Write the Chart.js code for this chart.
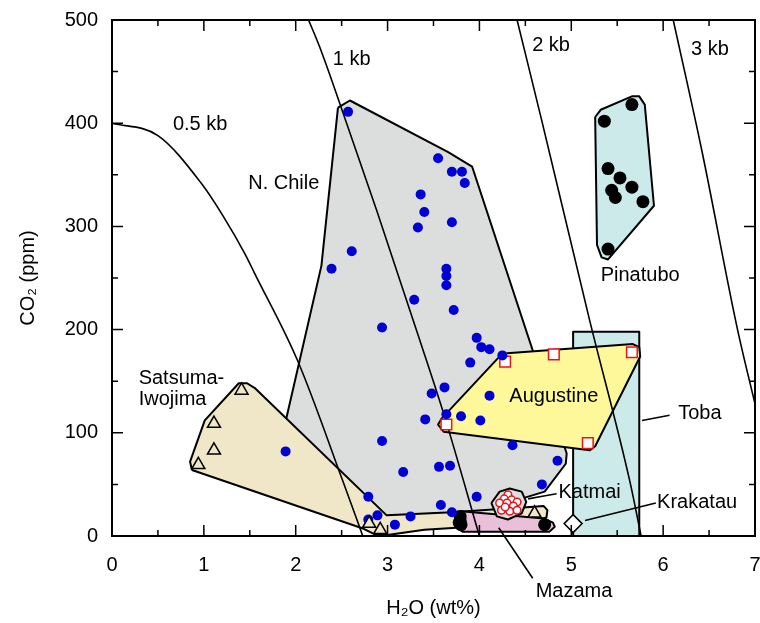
<!DOCTYPE html>
<html lang="en">
<head>
<meta charset="UTF-8">
<title>CO2 vs H2O</title>
<script src="https://cdn.jsdelivr.net/npm/chart.js@4"></script>
<style>
  body { margin: 0; background: #fff; }
  #wrap { width: 760px; height: 623px; }
</style>
</head>
<body>
<div id="wrap"><canvas id="chart" width="760" height="623"></canvas></div>
<script>
// axis ticks
const xTicks = [0, 1, 2, 3, 4, 5, 6, 7];
const yTicks = [0, 100, 200, 300, 400, 500];
const xMinor = [0.5, 1.5, 2.5, 3.5, 4.5, 5.5, 6.5];
const yMinor = [50, 150, 250, 350, 450];

// isobars (H2O wt%, CO2 ppm)
const isobar05 = [[0, 400], [0.5, 388], [0.97, 342], [1.21, 310], [1.45, 273], [1.55, 255], [2.02, 170], [2.51, 54], [2.73, 0]];
const isobar1 = [[2.14, 500], [2.26, 474], [2.43, 432], [2.88, 316], [3.35, 190], [3.63, 113], [4.0, 0]];
const isobar2 = [[4.41, 500], [4.68, 402], [5.2, 209], [5.64, 52], [5.76, 0]];
const isobar3 = [[6.11, 500], [6.42, 374], [6.81, 200], [7.0, 128]];

// outlined fields
const nChileField = [[2.46, 415], [2.59, 422], [3.66, 372], [3.92, 358], [4.95, 80], [4.94, 70], [4.71, 43], [4.45, 36], [4.2, 25], [3.0, 19], [2.93, 14], [1.89, 111], [2.28, 262], [2.46, 415]];
const satsumaField = [[0.87, 64], [0.85, 72], [1.01, 112], [1.38, 148], [1.47, 148], [1.56, 143], [2.99, 20], [3.7, 23], [4.55, 28], [4.7, 29], [4.74, 25], [4.73, 18], [4.5, 12], [3.4, 6], [3.0, 1], [2.85, 2], [2.74, 7], [0.87, 64]];
const tobaField = [[5.02, 0], [5.02, 198], [5.74, 198], [5.74, 0], [5.02, 0]];
const augustineField = [[4.22, 174], [4.3, 177], [5.67, 186], [5.74, 183], [5.75, 174], [5.26, 87], [5.2, 83], [3.61, 101], [3.55, 108], [3.59, 114], [4.22, 174]];
const mazamaField = [[3.74, 20], [3.8, 24], [4.7, 17], [4.8, 13], [4.82, 9], [4.76, 4], [3.82, 4], [3.74, 9], [3.74, 20]];
const katmaiField = [[4.13, 32], [4.22, 43], [4.33, 46], [4.46, 43], [4.51, 33], [4.46, 22], [4.31, 16], [4.19, 19], [4.13, 32]];
const pinatuboField = [[5.26, 406], [5.32, 413], [5.66, 426], [5.74, 426], [5.8, 418], [5.9, 320], [5.4, 268], [5.33, 270], [5.28, 282], [5.26, 406]];

// samples
const nChile = [[2.57, 411], [3.55, 366], [3.7, 353], [3.81, 353], [3.84, 342], [3.36, 331], [3.4, 314], [3.7, 304], [3.33, 299], [2.61, 276], [2.39, 259], [3.64, 259], [3.64, 252], [3.64, 243], [3.29, 229], [3.72, 219], [2.94, 202], [3.97, 192], [4.02, 183], [4.11, 181], [4.25, 175], [3.9, 168], [3.62, 144], [3.48, 138], [4.11, 136], [3.64, 118], [3.8, 116], [3.41, 113], [4.01, 112], [4.36, 88], [4.85, 73], [1.89, 82], [2.94, 92], [3.17, 62], [3.56, 67], [3.68, 68], [4.68, 50], [3.97, 38], [3.58, 30], [3.7, 23], [3.25, 19], [2.79, 38], [2.79, 16], [2.89, 20], [3.08, 11]];
const satsuma = [[1.41, 141], [1.11, 109], [1.11, 83], [0.94, 69], [2.8, 12], [2.92, 6], [4.6, 22]];
const augustine = [[4.28, 169], [4.81, 176], [5.66, 178], [3.64, 108], [5.18, 90]];
const katmai = [[4.31, 40], [4.27, 36], [4.35, 35], [4.41, 33], [4.22, 32], [4.3, 32], [4.37, 29], [4.24, 25], [4.33, 24], [4.41, 25], [4.28, 28]];
const pinatubo = [[5.36, 402], [5.66, 418], [5.4, 356], [5.53, 347], [5.44, 335], [5.48, 328], [5.66, 338], [5.78, 324], [5.4, 278]];
const mazama = [[3.79, 19], [3.79, 15], [3.8, 11], [3.78, 13], [4.71, 11]];
const krakatau = [[5.02, 12]];

// leader lines
const tobaLeader = [[5.77, 112], [6.07, 117]];
const katmaiLeader = [[4.53, 36], [4.84, 41]];
const krakatauLeader = [[5.15, 15], [5.92, 32]];
const mazamaLeader = [[4.21, 8], [4.58, -41]];

const FONT = '"Liberation Sans", Arial, Helvetica, sans-serif';
const pts = a => a.map(p => ({x: p[0], y: p[1]}));

function field(data, color, order) {
  return {
    data: pts(data), showLine: true, fill: 'shape', backgroundColor: color,
    borderColor: '#000', borderWidth: 2, borderJoinStyle: 'round',
    pointRadius: 0, tension: 0, order: order
  };
}
function curve(data, width, order, extra) {
  return Object.assign({
    data: pts(data), showLine: true, fill: false, borderColor: '#000',
    borderWidth: width, pointRadius: 0, cubicInterpolationMode: 'monotone', order: order
  }, extra || {});
}
function marks(data, style, r, bg, border, bw) {
  return {
    data: pts(data), showLine: false, pointStyle: style, pointRadius: r,
    pointBackgroundColor: bg, pointBorderColor: border, pointBorderWidth: bw, order: 0
  };
}

const notes = [
  {text: '0.5 kb', x: 0.96, y: 399},
  {text: '1 kb', x: 2.61, y: 462},
  {text: '2 kb', x: 4.78, y: 475},
  {text: '3 kb', x: 6.51, y: 471},
  {text: 'N. Chile', x: 1.87, y: 342},
  {text: 'Pinatubo', x: 5.75, y: 252},
  {text: 'Augustine', x: 4.81, y: 135},
  {text: 'Toba', x: 6.4, y: 119},
  {text: 'Katmai', x: 5.2, y: 42},
  {text: 'Krakatau', x: 6.37, y: 32},
  {text: 'Mazama', x: 5.03, y: -54},
  {text: 'Satsuma-', x: 0.29, y: 153, align: 'left'},
  {text: 'Iwojima', x: 0.29, y: 132, align: 'left'}
];

const framePlugin = {
  id: 'frame',
  afterDatasetsDraw(chart) {
    const {ctx, chartArea: a, scales: {x, y}} = chart;
    ctx.save();
    ctx.strokeStyle = '#000';
    ctx.lineWidth = 1.5;
    ctx.beginPath();
    const tx = (v, len) => {
      const p = x.getPixelForValue(v);
      ctx.moveTo(p, a.bottom); ctx.lineTo(p, a.bottom - len);
      ctx.moveTo(p, a.top); ctx.lineTo(p, a.top + len);
    };
    const ty = (v, len) => {
      const p = y.getPixelForValue(v);
      ctx.moveTo(a.left, p); ctx.lineTo(a.left + len, p);
      ctx.moveTo(a.right, p); ctx.lineTo(a.right - len, p);
    };
    xTicks.forEach(v => tx(v, 11));
    xMinor.forEach(v => tx(v, 6));
    yTicks.forEach(v => ty(v, 11));
    yMinor.forEach(v => ty(v, 6));
    ctx.stroke();
    ctx.lineWidth = 2;
    ctx.strokeRect(a.left, a.top, a.right - a.left, a.bottom - a.top);

    ctx.fillStyle = '#000';
    ctx.font = '20px ' + FONT;
    ctx.textBaseline = 'middle';
    notes.forEach(n => {
      ctx.textAlign = n.align || 'center';
      ctx.fillText(n.text, x.getPixelForValue(n.x), y.getPixelForValue(n.y));
    });
    ctx.restore();
  }
};

new Chart(document.getElementById('chart'), {
  type: 'scatter',
  data: {
    datasets: [
      field(nChileField, '#dcdedd', 20),
      field(satsumaField, '#efe7c7', 19),
      field(tobaField, '#cdeaea', 18),
      field(augustineField, '#fff89b', 17),
      field(mazamaField, '#eabfd9', 16),
      field(katmaiField, '#dcdedd', 15),
      field(pinatuboField, '#cdeaea', 14),
      curve(isobar05, 1.6, 5),
      curve(isobar1, 1.6, 5),
      curve(isobar2, 1.6, 5),
      curve(isobar3, 1.6, 5),
      curve(tobaLeader, 1.6, 4),
      curve(katmaiLeader, 1.6, 4),
      curve(krakatauLeader, 1.6, 4),
      curve(mazamaLeader, 1.6, 4, {clip: false}),
      marks(satsuma, 'triangle', 7.5, '#efe7c7', '#000', 1.5),
      marks(nChile, 'circle', 5, '#0000d2', '#0000d2', 0),
      marks(augustine, 'rect', 7.5, '#fff', '#e8141c', 1.5),
      marks(katmai, 'circle', 3.8, '#fff', '#e8141c', 1.5),
      marks(pinatubo, 'circle', 6.5, '#000', '#000', 0),
      marks(mazama, 'circle', 6.5, '#000', '#000', 0),
      marks(krakatau, 'rectRot', 9, '#fff', '#000', 1.5)
    ]
  },
  options: {
    responsive: false,
    animation: false,
    devicePixelRatio: 1,
    layout: {autoPadding: false, padding: {left: 0, right: 5, top: 20, bottom: 0}},
    plugins: {legend: {display: false}, tooltip: {enabled: false}},
    scales: {
      x: {
        type: 'linear', min: 0, max: 7,
        grid: {display: false, drawTicks: false},
        border: {display: false},
        afterBuildTicks: s => { s.ticks = xTicks.map(v => ({value: v})); },
        ticks: {color: '#000', font: {family: FONT, size: 20}, padding: 17},
        title: {display: true, text: 'H₂O (wt%)', color: '#000', font: {family: FONT, size: 20}, padding: {top: 0, bottom: 3}},
        afterFit: s => { s.height = 87; s.paddingLeft = 0; s.paddingRight = 0; }
      },
      y: {
        type: 'linear', min: 0, max: 500,
        grid: {display: false, drawTicks: false},
        border: {display: false},
        afterBuildTicks: s => { s.ticks = yTicks.map(v => ({value: v})); },
        ticks: {color: '#000', font: {family: FONT, size: 20}, padding: 14},
        title: {display: true, text: 'CO₂ (ppm)', color: '#000', font: {family: FONT, size: 20}, padding: {top: 16, bottom: 0}},
        afterFit: s => { s.width = 112; s.paddingTop = 0; s.paddingBottom = 0; }
      }
    }
  },
  plugins: [framePlugin]
});
</script>
</body>
</html>
